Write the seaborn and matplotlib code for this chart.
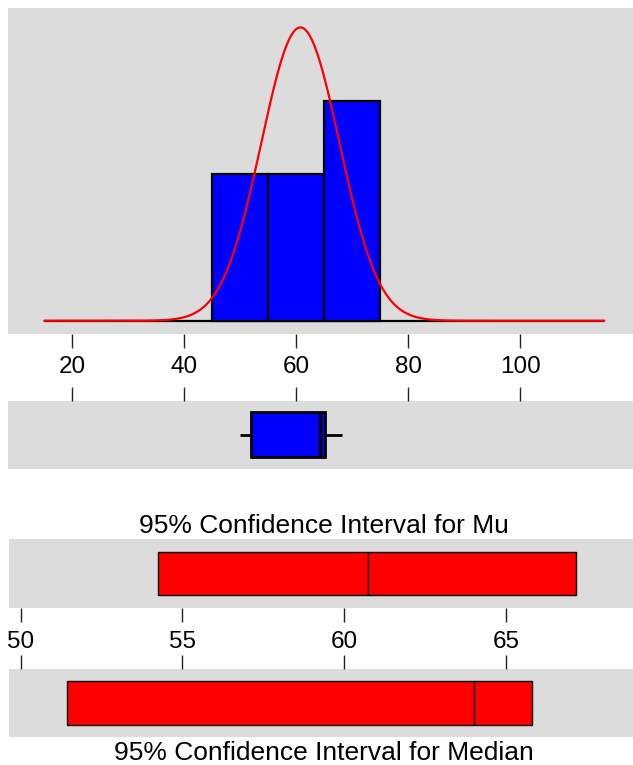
"""
Graphical summary: histogram with normal fit, boxplot and 95% confidence intervals.
"""

import matplotlib

matplotlib.use("Agg")
import matplotlib.pyplot as plt
import numpy as np
import seaborn as sns

# histogram (bins of width 10)
bin_edges = [45, 55, 65, 75]
hist_counts = [2, 2, 3]

# fitted normal curve
sample_mean = 60.72
sample_sd = 6.98
sample_n = 7
curve_range = [15, 115]

# boxplot sample
box_sample = [50.0, 51.0, 52.8, 64.3, 65.0, 65.4, 68.2]

# confidence intervals: lower, centre, upper
ci_mu = [54.24, 60.72, 67.17]
ci_median = [51.45, 64.0, 65.81]

hist_ticks = [20, 40, 60, 80, 100]
ci_ticks = [50, 55, 60, 65]

PANEL = "#dcdcdc"
W, H = 633, 765

sns.set_style("white")
plt.rcParams["font.family"] = ["Liberation Sans", "DejaVu Sans"]
plt.rcParams["text.color"] = "black"
plt.rcParams["xtick.color"] = "black"
plt.rcParams["xtick.labelcolor"] = "black"

fig = plt.figure(figsize=(W / 100, H / 100), dpi=100)


def add_panel(left, top, right, bottom):
    ax = fig.add_axes([left / W, 1 - bottom / H, (right - left) / W, (bottom - top) / H])
    ax.set_facecolor(PANEL)
    for s in ax.spines.values():
        s.set_visible(False)
    return ax


def style_ticks(ax, ticks, side):
    ax.set_xticks(ticks)
    ax.set_yticks([])
    ax.set_xlabel("")
    ax.set_ylabel("")
    if side == "bottom":
        ax.tick_params(axis="x", bottom=True, top=False, labelbottom=True, labeltop=False,
                       direction="out", length=10, width=1, color="#222222",
                       labelcolor="black", pad=6, labelsize=17.5)
    else:
        ax.tick_params(axis="x", bottom=False, top=True, labelbottom=False, labeltop=False,
                       direction="out", length=10, width=1, color="#222222")


# --- histogram with normal curve ---
ax_hist = add_panel(8, 8, 633, 334)
centers = [(a + b) / 2 for a, b in zip(bin_edges[:-1], bin_edges[1:])]
sns.histplot(x=centers, weights=hist_counts, bins=bin_edges, color="blue", alpha=1,
             edgecolor="black", linewidth=1.6, ax=ax_hist, zorder=2)
width = bin_edges[1] - bin_edges[0]
xs = np.linspace(curve_range[0], curve_range[1], 500)
ys = sample_n * width * np.exp(-0.5 * ((xs - sample_mean) / sample_sd) ** 2) / (sample_sd * np.sqrt(2 * np.pi))
ax_hist.hlines(0, curve_range[0], curve_range[1], color="black", lw=1.6, zorder=1)
sns.lineplot(x=xs, y=ys, color="red", lw=1.6, ax=ax_hist, zorder=3)
ax_hist.set_xlim(8.52, 120.1)
ax_hist.set_ylim(-0.181, 4.266)
style_ticks(ax_hist, hist_ticks, "bottom")

# --- boxplot ---
ax_box = add_panel(8, 401, 633, 468.7)
sns.boxplot(x=box_sample, ax=ax_box, color="blue", saturation=1, width=0.665,
            showcaps=False, linecolor="black", linewidth=2,
            medianprops={"color": "black", "linewidth": 2.5}, whis=1.5)
ax_box.set_xlim(8.52, 120.1)
ax_box.set_ylim(0.5, -0.5)
style_ticks(ax_box, hist_ticks, "top")


# --- confidence intervals ---
def ci_bar(ax, ci, h):
    lo, mid, hi = ci
    ax.barh(0, hi - lo, left=lo, height=h, color="red", edgecolor="black", linewidth=1)
    ax.vlines(mid, -h / 2, h / 2, color="black", lw=1)
    ax.set_xlim(49.64, 68.92)
    ax.set_ylim(-0.5, 0.5)


ax_mu = add_panel(8.9, 539.3, 633, 608.3)
ci_bar(ax_mu, ci_mu, 0.623)
style_ticks(ax_mu, ci_ticks, "bottom")

ax_med = add_panel(8.9, 669, 633, 737)
ci_bar(ax_med, ci_median, 0.643)
style_ticks(ax_med, ci_ticks, "top")

fig.text(324 / W, 1 - 533 / H, "95% Confidence Interval for Mu", ha="center",
         va="baseline", fontsize=19)
fig.text(324 / W, 1 - 760 / H, "95% Confidence Interval for Median", ha="center",
         va="baseline", fontsize=19)

fig.savefig("out.png", dpi=100)
